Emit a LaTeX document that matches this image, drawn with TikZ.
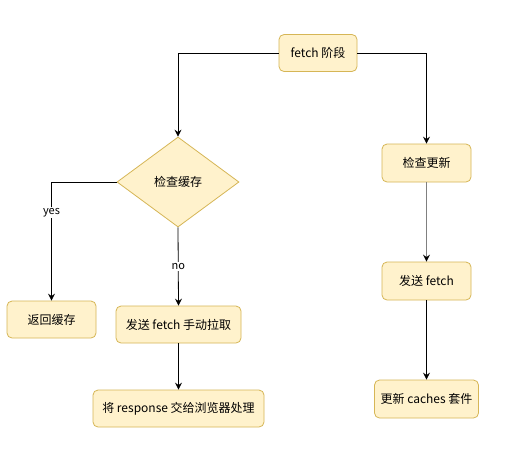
\documentclass[tikz,border=0pt]{standalone}
\usepackage{fontspec}
\setmainfont{Noto Sans CJK SC}
\usetikzlibrary{shapes.geometric,arrows.meta}
\definecolor{boxfill}{HTML}{FFF2CC}
\definecolor{boxline}{HTML}{D6B656}

\begin{document}
\begin{tikzpicture}[x=1pt,y=-1pt,
    stepbox/.style={draw=boxline,fill=boxfill,rounded corners=5pt,line width=0.8pt,
      minimum height=37pt,inner sep=0pt,font=\fontsize{12}{14}\selectfont},
    askbox/.style={draw=boxline,fill=boxfill,diamond,line width=0.8pt,
      minimum width=122pt,minimum height=90pt,inner sep=0pt,font=\fontsize{12}{14}\selectfont},
    arr/.style={line width=0.8pt,-{Stealth[length=7pt,width=7pt,inset=2.5pt,black]}},
    lbl/.style={fill=white,inner sep=1pt,font=\fontsize{11}{13}\selectfont}]
                \useasboundingbox[fill=white] (0,0) rectangle (518,467);

                \node[stepbox,minimum width=78pt] (stage) at (318,53) {fetch 阶段};

                \node[askbox] (check) at (178,182) {检查缓存};
                \node[stepbox,minimum width=89pt] (cache) at (51.5,319.5) {返回缓存};
                \node[stepbox,minimum width=125pt] (send) at (178.5,324.5) {发送 fetch 手动拉取};
                \node[stepbox,minimum width=171pt] (resp) at (178.5,408.5) {将 response 交给浏览器处理};

                \node[stepbox,minimum width=89pt,minimum height=38pt] (update) at (426.5,163) {检查更新};
                \node[stepbox,minimum width=89pt,minimum height=38pt] (fetchr) at (426.5,281) {发送 fetch};
                \node[stepbox,minimum width=104pt,minimum height=38pt] (caches) at (426.5,399) {更新 caches 套件};

                \draw[arr] (stage.west) -| (check.north);
                \draw[arr] (stage.east) -| (update.north);

                \draw[arr] (check.west) -| node[lbl,pos=0.63] {yes} (cache.north);
                \draw[arr] (check.south) -- node[lbl] {no} (send.north);
                \draw[arr] (send) -- (resp);

                \draw[arr,gray,line width=1.6pt] (update) -- (fetchr);
                \draw[arr] (fetchr) -- (caches);
            \end{tikzpicture}
\end{document}
